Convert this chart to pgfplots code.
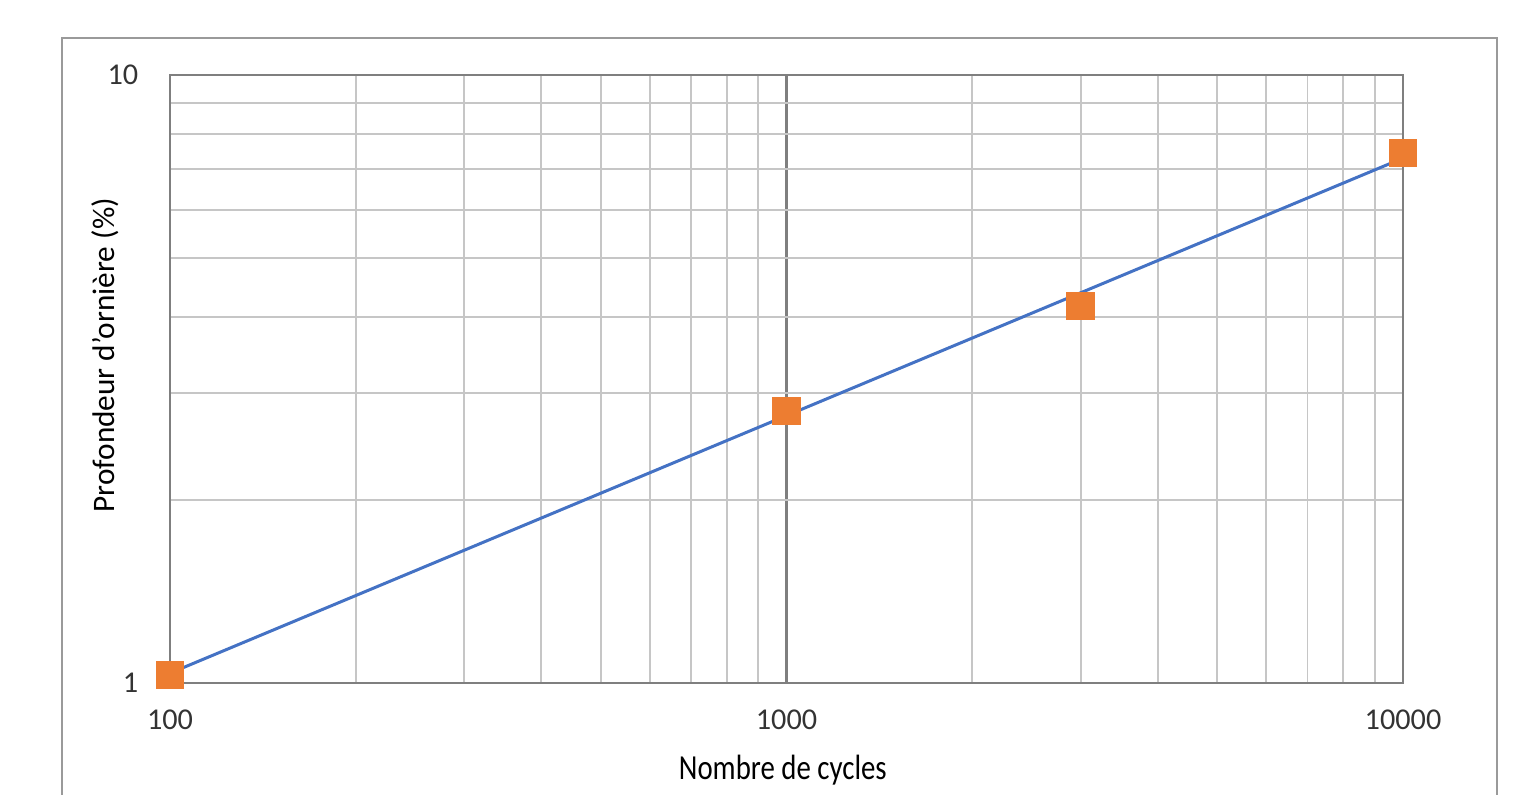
\documentclass[border=0pt]{standalone}
\usepackage{fontspec}
\setmainfont{Carlito}
\usepackage{pgfplots}
\pgfplotsset{compat=1.18}
\definecolor{exorange}{HTML}{ED7D31}
\definecolor{exblue}{HTML}{4472C4}
\definecolor{mingrid}{HTML}{C6C6C6}
\definecolor{majgrid}{HTML}{7F7F7F}
\definecolor{frame}{HTML}{9A9A9A}
\definecolor{ticktext}{HTML}{333333}
\begin{document}
\begin{tikzpicture}
\useasboundingbox (0,0) rectangle (15.15cm,7.95cm);
\clip (0,0) rectangle (15.15cm,7.95cm);
\draw[color=frame, line width=0.22mm] (0.62cm,-1cm) rectangle (14.97cm,7.57cm);
\begin{axis}[
  at={(1.70cm,1.12cm)}, anchor=south west,
  scale only axis, width=12.33cm, height=6.08cm,
  xmode=log, ymode=log,
  xmin=100, xmax=10000, ymin=1, ymax=10,
  xtick={100,1000,10000}, xticklabels={100,1000,10000},
  ytick={1,10}, yticklabels={1,10},
  minor xtick={200,300,400,500,600,700,800,900,2000,3000,4000,5000,6000,7000,8000,9000},
  minor ytick={2,3,4,5,6,7,8,9},
  grid=both,
  minor grid style={color=mingrid, line width=0.55pt},
  major grid style={color=majgrid, line width=0.6pt},
  axis line style={color=majgrid, line width=0.6pt},
  tick style={draw=none},
  xticklabel style={font=\fontsize{8.6}{10}\selectfont, text=ticktext, anchor=center, yshift=-3.7mm, inner sep=0pt},
  yticklabel style={font=\fontsize{8.6}{10}\selectfont, text=ticktext, anchor=east, xshift=-3.1mm, inner sep=0pt},
  xlabel={Nombre de cycles},
  xlabel style={at={(axis description cs:0.497,-0.143)}, anchor=center, font=\fontsize{10}{12}\selectfont, xscale=0.82, text=black},
  ylabel={Profondeur d'ornière (\%)},
  ylabel style={at={(axis description cs:-0.0527,0.539)}, anchor=center, font=\fontsize{8.9}{11}\selectfont, text=black},
  clip=false,
]
\addplot[only marks, mark=square*, mark size=1.35mm, mark options={fill=exorange, draw=exorange}] coordinates {
  (100,1.03) (1000,2.80) (3000,4.17) (10000,7.44)
};
\addplot[exblue, line width=0.3mm, no marks] coordinates {
  (100,1.038) (10000,7.30)
};
\end{axis}
\end{tikzpicture}
\end{document}
